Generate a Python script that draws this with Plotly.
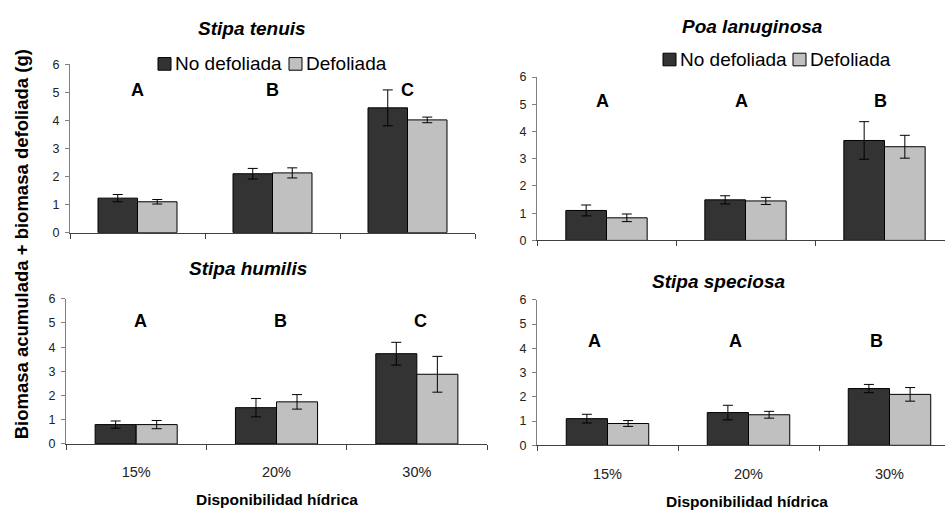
import plotly.graph_objects as go

# ---------------- data ----------------
categories = ["15%", "20%", "30%"]
series_names = ["No defoliada", "Defoliada"]

species = ["Stipa tenuis", "Poa lanuginosa", "Stipa humilis", "Stipa speciosa"]

tenuis_nd = [1.23, 2.10, 4.45]
tenuis_nd_err = [0.13, 0.19, 0.64]
tenuis_d = [1.10, 2.13, 4.02]
tenuis_d_err = [0.08, 0.18, 0.10]

poa_nd = [1.10, 1.49, 3.67]
poa_nd_err = [0.20, 0.15, 0.69]
poa_d = [0.83, 1.45, 3.44]
poa_d_err = [0.14, 0.13, 0.42]

humilis_nd = [0.80, 1.50, 3.73]
humilis_nd_err = [0.15, 0.38, 0.47]
humilis_d = [0.80, 1.74, 2.88]
humilis_d_err = [0.17, 0.30, 0.74]

speciosa_nd = [1.10, 1.35, 2.34]
speciosa_nd_err = [0.18, 0.30, 0.17]
speciosa_d = [0.90, 1.26, 2.10]
speciosa_d_err = [0.12, 0.14, 0.28]

tenuis_letters = ["A", "B", "C"]
poa_letters = ["A", "A", "B"]
humilis_letters = ["A", "B", "C"]
speciosa_letters = ["A", "A", "B"]

y_ticks = [0, 1, 2, 3, 4, 5, 6]

# ---------------- style / layout ----------------
W, H = 945, 510
FONT = "Liberation Sans, Arial, sans-serif"
DARK = "#333333"
LIGHT = "#C0C0C0"


def px(x):
    return x / W


def py(y):
    return 1 - y / H


# per panel: x pixel span, x range end, y pixel span (top=6, bottom=0),
# letter y value, letter x shift, title centre (px), show x labels
panels = [
    dict(xs=(70, 475), xend=2.5, ys=(59, 232), ly=5.1, lsh=0, title=(252, 22), xl=False),
    dict(xs=(537, 945), xend=-0.5 + 408 / 139, ys=(72, 240), ly=5.12, lsh=-4, title=(752, 20), xl=False),
    dict(xs=(66, 487), xend=2.5, ys=(300, 449.3), ly=5.1, lsh=4, title=(248, 269), xl=True),
    dict(xs=(537, 945), xend=-0.5 + 408 / 141, ys=(301, 450.7), ly=4.3, lsh=-13, title=(718, 282), xl=True),
]

panel_data = [
    (tenuis_nd, tenuis_nd_err, tenuis_d, tenuis_d_err, tenuis_letters),
    (poa_nd, poa_nd_err, poa_d, poa_d_err, poa_letters),
    (humilis_nd, humilis_nd_err, humilis_d, humilis_d_err, humilis_letters),
    (speciosa_nd, speciosa_nd_err, speciosa_d, speciosa_d_err, speciosa_letters),
]

fig = go.Figure()
annotations = []
shapes = []
layout = {}

for i, (p, d) in enumerate(zip(panels, panel_data)):
    k = "" if i == 0 else str(i + 1)
    xa, ya = "x" + k, "y" + k
    nd, nd_err, de, de_err, letters = d
    for vals, errs, name, col in ((nd, nd_err, series_names[0], DARK),
                                  (de, de_err, series_names[1], LIGHT)):
        fig.add_trace(go.Bar(
            x=categories, y=vals, name=name, xaxis=xa, yaxis=ya,
            marker=dict(color=col, line=dict(color="black", width=1)),
            error_y=dict(type="data", array=errs, color="black", thickness=1, width=5),
            showlegend=False,
        ))
    layout["xaxis" + k] = dict(
        domain=[px(p["xs"][0]), px(p["xs"][1])], anchor=ya, type="category",
        range=[-0.5, p["xend"]], showline=True, linecolor="#404040", linewidth=1,
        ticks="outside", tickson="boundaries", ticklen=5, tickcolor="#404040",
        showgrid=False, zeroline=False, showticklabels=p["xl"],
        tickfont=dict(family=FONT, size=14.5, color="#222222"), ticklabelstandoff=15,
        fixedrange=True,
    )
    layout["yaxis" + k] = dict(
        domain=[py(p["ys"][1]), py(p["ys"][0])], anchor=xa, range=[0, 6],
        tickvals=y_ticks, showline=True, linecolor="#808080", linewidth=1,
        ticks="outside", ticklen=4, tickcolor="#808080", showgrid=False,
        zeroline=False, tickfont=dict(family=FONT, size=12.5, color="#222222"),
        ticklabelstandoff=3, fixedrange=True,
    )
    for j, letter in enumerate(letters):
        annotations.append(dict(
            x=j, y=p["ly"], xref=xa, yref=ya, text="<b>%s</b>" % letter,
            showarrow=False, xshift=p["lsh"],
            font=dict(family=FONT, size=18, color="black"),
        ))
    annotations.append(dict(
        x=px(p["title"][0]), y=py(p["title"][1]), xref="paper", yref="paper",
        text="<b><i>%s</i></b>" % species[i], showarrow=False,
        font=dict(family=FONT, size=19, color="black"),
        xanchor="center", yanchor="middle",
    ))

# x-axis titles
for cx, cy in ((277, 506), (747, 508)):
    annotations.append(dict(
        x=px(cx), y=py(cy), xref="paper", yref="paper",
        text="<b>Disponibilidad hídrica</b>", showarrow=False,
        font=dict(family=FONT, size=15.5, color="black"),
        xanchor="center", yanchor="middle",
    ))

# shared y title
annotations.append(dict(
    x=px(21), y=py(244), xref="paper", yref="paper",
    text="<b>Biomasa acumulada + biomasa defoliada (g)</b>", showarrow=False,
    textangle=-90, font=dict(family=FONT, size=18.5, color="black"),
    xanchor="center", yanchor="middle",
))

# legends (top panels)
for sq1, sq2, cy in ((158, 289, 58.5), (663, 793, 54)):
    for sx, col, name in ((sq1, DARK, series_names[0]), (sq2, LIGHT, series_names[1])):
        shapes.append(dict(
            type="rect", xref="paper", yref="paper",
            x0=px(sx), x1=px(sx + 13), y0=py(cy + 6.5), y1=py(cy - 6.5),
            fillcolor=col, line=dict(color="black", width=1),
        ))
        annotations.append(dict(
            x=px(sx + 15), y=py(cy), xref="paper", yref="paper", text=name,
            showarrow=False, xanchor="left", yanchor="middle",
            font=dict(family=FONT, size=19, color="black"),
        ))

fig.update_layout(
    width=W, height=H, margin=dict(l=0, r=0, t=0, b=0),
    paper_bgcolor="white", plot_bgcolor="white",
    barmode="group", bargap=0.415, bargroupgap=0,
    annotations=annotations, shapes=shapes, showlegend=False,
    font=dict(family=FONT),
    **layout,
)

fig.write_html(
    "out.html",
    config={"displayModeBar": False},
    post_script="document.body.style.margin='0px';document.body.style.overflow='hidden';",
)
